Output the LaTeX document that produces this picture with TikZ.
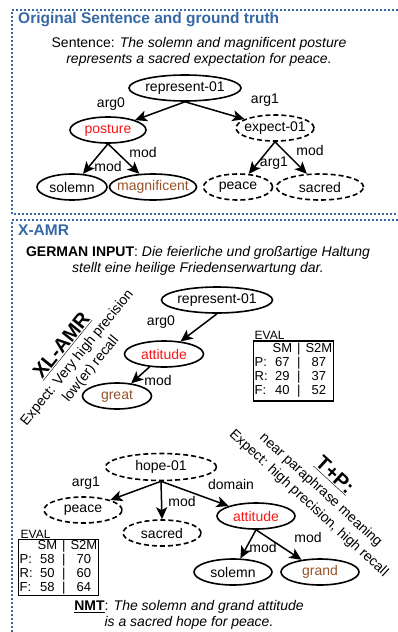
\documentclass[tikz,border=0pt]{standalone}
\usepackage{fontspec}
\setmainfont{Liberation Sans}
\usetikzlibrary{arrows.meta, shapes.geometric}
\definecolor{boxblue}{RGB}{54,104,166}
\definecolor{amrbrown}{RGB}{150,82,40}
\definecolor{amrred}{RGB}{250,20,20}

\begin{document}
\begin{tikzpicture}[x=1pt,y=-1pt]
  \tikzstyle{concept}=[ellipse,draw,line width=1.6pt,inner xsep=-6pt,inner ysep=0pt,minimum height=26pt,font=\fontsize{14}{16}\selectfont]
  \tikzstyle{guess}=[concept,dash pattern=on 5pt off 3pt]
  \tikzstyle{rel}=[-{Stealth[length=12pt,width=11pt,inset=3pt]},line width=1.5pt]
  \tikzstyle{lbl}=[font=\fontsize{14}{16}\selectfont,inner sep=0pt]
  \tikzstyle{frame}=[boxblue,line width=2pt,dash pattern=on 2pt off 2pt]
  \tikzstyle{evalbox}=[draw,line width=1.2pt,inner sep=0pt,font=\fontsize{13}{14}\selectfont]

  \useasboundingbox (0,0) rectangle (398,632);

  \draw[frame] (398,10) -- (12,10) -- (12,214) -- (398,214); % Top box
  \draw[frame] (398,220) -- (12,220) -- (12,632); % Bottom box

  % Original sentence
  \node[anchor=west,inner sep=0pt,text=boxblue,font=\fontsize{15.5}{18}\selectfont\bfseries] (T1) at (18,20) {Original Sentence and ground truth};
  \node[align=center,font=\fontsize{14}{16}\selectfont] (S1) at (199,52) {Sentence: \textit{The solemn and magnificent posture}\\\textit{represents a sacred expectation for peace.}};
  \node[concept,minimum width=112pt] (A) at (185,88) {represent-01};
  \node[concept,minimum width=76pt,text=amrred] (B) at (108,130) {posture};
  \node[guess,minimum width=78pt] (C) at (275,128) {expect-01};
  \node[concept,minimum width=70pt] (D) at (72,187) {solemn};
  \node[concept,minimum width=87pt,text=amrbrown] (E) at (153,187) {magnificent};
  \node[guess,minimum width=69pt] (F) at (238,187) {peace};
  \node[guess,minimum width=87pt] (G) at (320,187) {sacred};
  \draw[rel] (A.south) -- (B); % arg0
  \draw[rel] (A.south) -- (C); % arg1
  \draw[rel] (B.south) -- (D);
  \draw[rel] (B.south) -- (E);
  \draw[rel] (C.south) -- (F);
  \draw[rel] (C.south) -- (G);
  \node[lbl] (AB) at (111,104) {arg0};
  \node[lbl] (AC) at (265,100) {arg1};
  \node[lbl] (BD) at (108,166) {mod};
  \node[lbl] (BE) at (143,152) {mod};
  \node[lbl] (CF) at (274,163) {arg1};
  \node[lbl] (CG) at (310,150) {mod};

  % X-AMR
  \node[anchor=west,inner sep=0pt,text=boxblue,font=\fontsize{15.5}{18}\selectfont\bfseries] (T2) at (18,230) {X-AMR};
  \node[align=center,font=\fontsize{14}{16}\selectfont] (S2) at (198,261) {\textbf{GERMAN INPUT}: \textit{Die feierliche und großartige Haltung}\\\textit{stellt eine heilige Friedenserwartung dar.}};
  \node[align=center,rotate=51,font=\fontsize{14}{17.5}\selectfont] (XL) at (76,357) {{\fontsize{20}{22}\selectfont\bfseries\underline{XL-AMR}}\\Expect: Very high precision\\low(er) recall};
  \node[align=center,rotate=-42.5,font=\fontsize{14}{18}\selectfont] (TP) at (322,489) {{\fontsize{20}{22}\selectfont\bfseries\underline{T+P:}}\\near paraphrase meaning\\Expect: high precision, high recall};

  % XL-AMR graph
  \node[concept,minimum width=111pt] (H) at (217,300) {represent-01};
  \node[concept,minimum width=79pt,text=amrred] (I) at (164,354) {attitude};
  \node[concept,minimum width=69pt,text=amrbrown] (J) at (117,396) {great};
  \draw[rel] (H.south) -- (I);
  \draw[rel] (I) -- (J);
  \node[lbl] (HI) at (161,322) {arg0};
  \node[lbl] (IJ) at (158,380) {mod};
  \node[anchor=south west,inner sep=0.5pt,font=\fontsize{12}{13}\selectfont] (V1) at (254,340) {EVAL};
  \node[evalbox,minimum width=79pt,minimum height=60pt] (W1) at (293.5,371) {\setlength\tabcolsep{2.5pt}\begin{tabular}{@{\hspace{1pt}}lccc@{\hspace{1pt}}} & SM & | & S2M\\P: & 67 & | & 87\\R: & 29 & | & 37\\F: & 40 & | & 52\end{tabular}};

  % T+P graph
  \node[guess,minimum width=111pt,minimum height=27pt] (K) at (161,467) {hope-01};
  \node[guess,minimum width=78pt] (L) at (83,510) {peace};
  \node[guess,minimum width=78pt] (M) at (162,533) {sacred};
  \node[concept,minimum width=78pt,text=amrred] (N) at (256,516) {attitude};
  \node[concept,minimum width=78pt] (O) at (233,572) {solemn};
  \node[concept,minimum width=78pt,text=amrbrown] (P) at (320,572) {grand};
  \draw[rel] (K.south) -- (L);
  \draw[rel] (K.south) -- (M.north);
  \draw[rel] (K.south) -- (N);
  \draw[rel] (N.south) -- (O);
  \draw[rel] (N.south) -- (P);
  \node[lbl] (KL) at (86,483) {arg1};
  \node[lbl] (KM) at (182,501) {mod};
  \node[lbl] (KN) at (231,484) {domain};
  \node[lbl] (NO) at (263,547) {mod};
  \node[lbl] (NP) at (308,537) {mod};
  \node[anchor=south west,inner sep=0.5pt,font=\fontsize{12}{13}\selectfont] (V2) at (20,539) {EVAL};
  \node[evalbox,minimum width=77pt,minimum height=55pt] (W2) at (58.5,567.5) {\setlength\tabcolsep{2.5pt}\begin{tabular}{@{\hspace{1pt}}lccc@{\hspace{1pt}}} & SM & | & S2M\\P: & 58 & | & 70\\R: & 50 & | & 60\\F: & 58 & | & 64\end{tabular}};
  \node[align=center,font=\fontsize{14}{15.5}\selectfont] (S3) at (189,615) {\underline{\textbf{NMT}}: \textit{The solemn and grand attitude}\\\textit{is a sacred hope for peace.}};
\end{tikzpicture}
\end{document}
